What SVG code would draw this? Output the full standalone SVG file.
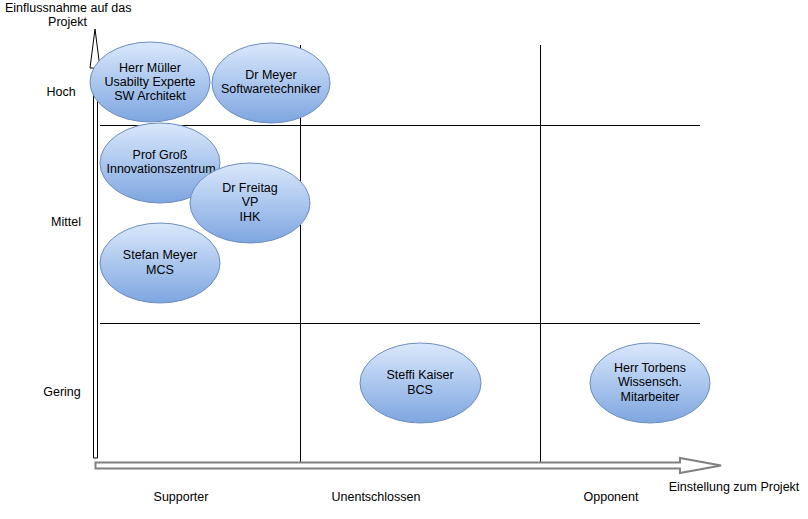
<svg xmlns="http://www.w3.org/2000/svg" width="808" height="519" viewBox="0 0 808 519">
<defs>
<linearGradient id="g" x1="0" y1="0" x2="0" y2="1">
<stop offset="0" stop-color="#dae8fc"/>
<stop offset="1" stop-color="#7ea6e0"/>
</linearGradient>
<style>
text{font-family:"Liberation Sans",Arial,sans-serif;font-size:12.5px;fill:#000;}
.c{text-anchor:middle;}
.e{fill:url(#g);stroke:#6c8ebf;stroke-width:1;}
.grid{stroke:#000;stroke-width:1;fill:none;}
</style>
</defs>
<rect width="808" height="519" fill="#fff"/>
<g id="grid">
<line class="grid" x1="100" y1="125.5" x2="700" y2="125.5"/>
<line class="grid" x1="100" y1="323.5" x2="700" y2="323.5"/>
<line class="grid" x1="300.5" y1="45" x2="300.5" y2="463"/>
<line class="grid" x1="540.5" y1="45" x2="540.5" y2="463"/>
</g>
<g id="connectors">
<path d="M93.5,458 L93.5,68 L90,68 L95,29 L100,68 L97.5,68 L97.5,458 Z" fill="#fff" stroke="#000" stroke-width="1"/>
<path d="M95.5,462.5 L680,462.5 L680,458 L721,465.5 L680,473 L680,468.5 L95.5,468.5 Z" fill="#fff" stroke="#808080" stroke-width="2"/>
</g>
<g id="axis-labels">
<text x="5" y="12">Einflussnahme auf das</text>
<text x="87" y="26" text-anchor="end">Projekt</text>
<text x="61" y="96" class="c">Hoch</text>
<text x="66" y="226" class="c">Mittel</text>
<text x="62" y="396" class="c">Gering</text>
<text x="181" y="501" class="c">Supporter</text>
<text x="376" y="501" class="c">Unentschlossen</text>
<text x="611" y="501" class="c">Opponent</text>
<text x="734" y="491" class="c">Einstellung zum Projekt</text>
</g>
<g id="n-mueller">
<ellipse class="e" cx="150" cy="82" rx="60" ry="40"/>
<text x="150" y="72" class="c">Herr Müller</text>
<text x="150" y="86" class="c">Usabilty Experte</text>
<text x="150" y="100" class="c">SW Architekt</text>
</g>
<g id="n-dr-meyer">
<ellipse class="e" cx="271" cy="83" rx="59" ry="40"/>
<text x="271" y="79" class="c">Dr Meyer</text>
<text x="271" y="93" class="c">Softwaretechniker</text>
</g>
<g id="n-gross">
<ellipse class="e" cx="160" cy="163" rx="60" ry="40"/>
<text x="160" y="159" class="c">Prof Groß</text>
<text x="161" y="173" class="c">Innovationszentrum</text>
</g>
<g id="n-freitag">
<ellipse class="e" cx="250" cy="203" rx="60" ry="40"/>
<text x="250" y="192" class="c">Dr Freitag</text>
<text x="250" y="206" class="c">VP</text>
<text x="250" y="221" class="c">IHK</text>
</g>
<g id="n-stefan">
<ellipse class="e" cx="160" cy="263" rx="60" ry="40"/>
<text x="160" y="259" class="c">Stefan Meyer</text>
<text x="160" y="274" class="c">MCS</text>
</g>
<g id="n-steffi">
<ellipse class="e" cx="420.5" cy="383" rx="60.5" ry="40"/>
<text x="420" y="379" class="c">Steffi Kaiser</text>
<text x="420" y="394" class="c">BCS</text>
</g>
<g id="n-torbens">
<ellipse class="e" cx="650" cy="383" rx="60" ry="40"/>
<text x="650" y="372" class="c">Herr Torbens</text>
<text x="650" y="386" class="c">Wissensch.</text>
<text x="650" y="401" class="c">Mitarbeiter</text>
</g>
</svg>
